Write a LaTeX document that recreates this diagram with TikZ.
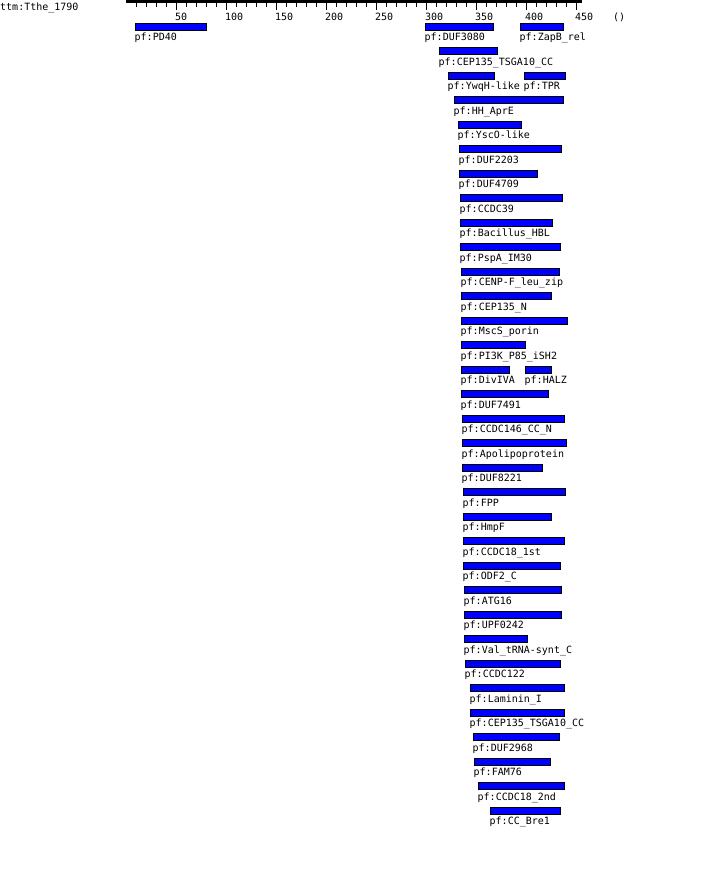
\documentclass[tikz,border=0pt]{standalone}
\usepackage{fontspec}
\setmonofont{DejaVu Sans Mono}
\definecolor{dom-blue}{RGB}{0,0,255}
\tikzset{
	dombar/.style={rectangle, draw=black, line width=1pt, fill=dom-blue, inner sep=0pt, minimum height=7pt, anchor=north west},
	domlabel/.style={font=\ttfamily\fontsize{10}{12}\selectfont, inner sep=0pt, anchor=base west},
	ticklabel/.style={font=\ttfamily\fontsize{10}{12}\selectfont, inner sep=0pt, anchor=base west}
}
% row, start, end, name, label (positions in residues, 1 residue = 1px)
\newcommand{\pfdomain}[5]{
	\node [dombar, minimum width={(#3-#2-1)*1pt}] (#4) at ({126.5+#2},{22.5+24.5*#1}) {};
	\node [domlabel] (#4-lbl) at ([yshift=-18pt]#4.north west) {pf:#5};
}

\begin{document}
\begin{tikzpicture}[x=1pt, y=-1pt]
\useasboundingbox (0,0) rectangle (702,884);
% title and ruler
\node [ticklabel] (seqname) at (0,10.5) {ttm:Tthe\_1790};
\fill (126,0) rectangle (582,3);
\foreach \u in {10,20,...,450}{
	\draw [line width=1pt] ({126.5+\u},3) -- ({126.5+\u},6.5);
	}
\foreach \u in {50,100,...,450}{
	\draw [line width=1pt] ({126.5+\u},3) -- ({126.5+\u},10);
	\node [ticklabel] (tick\u) at ({125+\u},20.3) {\u};
	}
\node [ticklabel] (unit) at (613,20.3) {()};
% domains
\foreach \r/\a/\b/\n/\t in {
	0/8/80/pd40/PD40, 0/298/367/duf3080/DUF3080, 0/393/437/zapb/ZapB\_rel,
	1/312/371/cep135a/CEP135\_TSGA10\_CC,
	2/321/368/ywqh/YwqH-like, 2/397/439/tpr/TPR,
	3/327/437/hhapre/HH\_AprE,
	4/331/395/ysco/YscO-like,
	5/332/435/duf2203/DUF2203,
	6/332/411/duf4709/DUF4709,
	7/333/436/ccdc39/CCDC39,
	8/333/426/bacillus/Bacillus\_HBL,
	9/333/434/pspa/PspA\_IM30,
	10/334/433/cenpf/CENP-F\_leu\_zip,
	11/334/425/cep135n/CEP135\_N,
	12/334/441/mscs/MscS\_porin,
	13/334/399/pi3k/PI3K\_P85\_iSH2,
	14/334/383/divIVA/DivIVA, 14/398/425/halz/HALZ,
	15/334/422/duf7491/DUF7491,
	16/335/438/ccdc146/CCDC146\_CC\_N,
	17/335/440/apolipo/Apolipoprotein,
	18/335/416/duf8221/DUF8221,
	19/336/439/fpp/FPP,
	20/336/425/hmpf/HmpF,
	21/336/438/ccdc18a/CCDC18\_1st,
	22/336/434/odf2/ODF2\_C,
	23/337/435/atg16/ATG16,
	24/337/435/upf0242/UPF0242,
	25/337/401/valtrna/Val\_tRNA-synt\_C,
	26/338/434/ccdc122/CCDC122,
	27/343/438/laminin/Laminin\_I,
	28/343/438/cep135b/CEP135\_TSGA10\_CC,
	29/346/433/duf2968/DUF2968,
	30/347/424/fam76/FAM76,
	31/351/438/ccdc18b/CCDC18\_2nd,
	32/363/434/ccbre1/CC\_Bre1}{
	\pfdomain{\r}{\a}{\b}{\n}{\t}
	}
\end{tikzpicture}
\end{document}
